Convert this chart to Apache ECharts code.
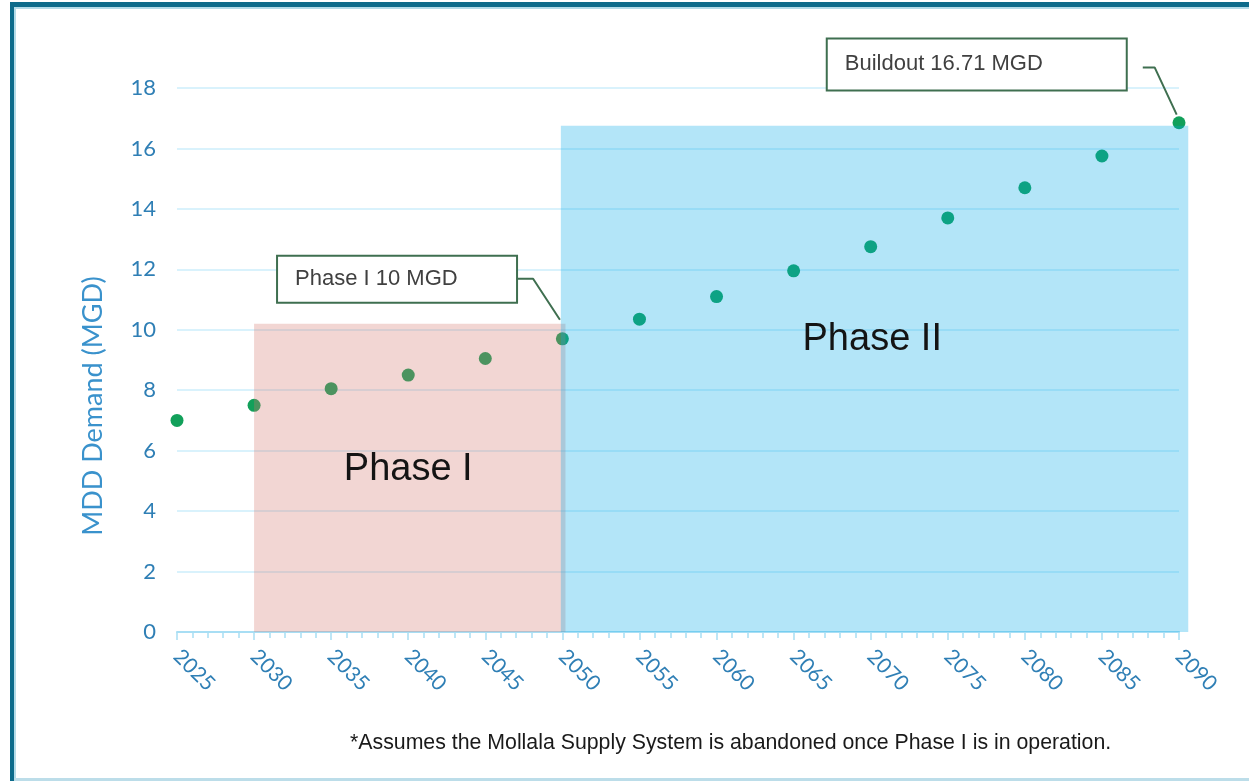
<!DOCTYPE html>
<html>
<head>
<meta charset="utf-8">
<script src="https://cdn.jsdelivr.net/npm/echarts@6/dist/echarts.min.js"></script>
<style>
  html, body { margin: 0; padding: 0; background: #fff; }
  #chart { width: 1249px; height: 781px; }
</style>
</head>
<body>
<div id="chart"></div>
<script>
// data
var years = [2025, 2030, 2035, 2040, 2045, 2050, 2055, 2060, 2065, 2070, 2075, 2080, 2085, 2090];
var demand = [7.0, 7.5, 8.05, 8.5, 9.05, 9.7, 10.35, 11.1, 11.95, 12.75, 13.7, 14.7, 15.75, 16.85];
var phaseOne = [2030, 2050.2, 10.2];   // from, to, top
var phaseTwo = [2049.9, 2090.6, 16.75];
var phaseColors = ['rgba(212,118,108,0.3)', 'rgba(2,168,231,0.3)'];
var phaseOneLeader = [[2047.05, 11.69], [2048.1, 11.69], [2049.84, 10.33]];
var buildoutLeader = [[2087.65, 18.68], [2088.42, 18.68], [2089.85, 17.12]];
var footnote = '*Assumes the Mollala Supply System is abandoned once Phase I is in operation.';

var axisFont = 'Lato, "DejaVu Sans", sans-serif';
var textFont = '"Liberation Sans", Arial, sans-serif';
var green = '#12a05a';
var boxLine = '#3f6f50';

function chart(targetId) {
    var myChart = echarts.init(document.getElementById(targetId));
    myChart.setOption(optionConfig());

    // callout boxes and big phase labels, placed in data space
    function px(pt) { return myChart.convertToPixel({ gridIndex: 0 }, pt); }
    var b1 = px([2031.49, 12.45]);
    var b2 = px([2067.15, 19.64]);
    var p1 = px([2040, 5.36]);
    var p2 = px([2070.1, 9.67]);

    var g = frame();
    g.push(callout(b1, 240, 47, 'Phase I 10 MGD'));
    g.push(callout(b2, 300, 52, 'Buildout 16.71 MGD'));
    g.push(bigLabel(p1, 'Phase I'));
    g.push(bigLabel(p2, 'Phase II'));
    g.push({
        type: 'text', x: 93, y: 406, rotation: Math.PI / 2, z: 100,
        style: { text: 'MDD Demand (MGD)', fontSize: 27, fontFamily: axisFont, fill: '#3a92cc',
                 textAlign: 'center', textVerticalAlign: 'middle' }
    });
    g.push({
        type: 'text', left: 350, top: 733, z: 100,
        style: { text: footnote, fontSize: 21.3, fontFamily: textFont, fill: '#1a1a1a' }
    });
    myChart.setOption({ graphic: g });
}

function frame() {
    return [
        { type: 'rect', shape: { x: 10, y: 2, width: 1239, height: 5 }, style: { fill: '#0d6b8b' }, z: 100 },
        { type: 'rect', shape: { x: 14, y: 7, width: 1235, height: 2 }, style: { fill: '#b4dbe8' }, z: 100 },
        { type: 'rect', shape: { x: 10, y: 2, width: 4, height: 779 }, style: { fill: '#0d6b8b' }, z: 100 },
        { type: 'rect', shape: { x: 14, y: 7, width: 2, height: 774 }, style: { fill: '#b4dbe8' }, z: 100 },
        { type: 'rect', shape: { x: 14, y: 778, width: 1235, height: 3 }, style: { fill: '#bcdde9' }, z: 100 }
    ];
}

function callout(pos, w, h, txt) {
    return {
        type: 'group', x: pos[0], y: pos[1], z: 100,
        children: [
            { type: 'rect', shape: { x: 0, y: 0, width: w, height: h },
              style: { fill: '#fff', stroke: boxLine, lineWidth: 2 } },
            { type: 'text', x: 18, y: h / 2,
              style: { text: txt, fontSize: 22, fontFamily: textFont, fill: '#404040',
                       textVerticalAlign: 'middle' } }
        ]
    };
}

function bigLabel(pos, txt) {
    return {
        type: 'text', x: pos[0], y: pos[1], z: 100,
        style: { text: txt, fontSize: 38, fontFamily: textFont, fill: '#141414',
                 textAlign: 'center', textVerticalAlign: 'middle' }
    };
}

function optionConfig() {
    var pts = years.map(function (y, i) { return [y, demand[i]]; });
    return {
        backgroundColor: '#fff',
        animation: false,
        grid: { left: 177, right: 70, top: 88, bottom: 149 },
        xAxis: {
            type: 'value', min: 2025, max: 2090, interval: 5,
            axisLine: { lineStyle: { color: '#a8def4', width: 2 } },
            axisTick: { show: true, length: 8, lineStyle: { color: '#a8def4', width: 1.5 } },
            minorTick: { show: true, splitNumber: 5, length: 6, lineStyle: { color: '#a8def4', width: 1.5 } },
            splitLine: { show: false },
            axisLabel: {
                rotate: -45, margin: 21, color: '#2f7fb5', fontSize: 21, fontFamily: axisFont,
                formatter: function (v) { return String(v); }
            }
        },
        yAxis: {
            type: 'value', min: 0, max: 18, interval: 2,
            axisLine: { show: false },
            axisTick: { show: false },
            splitLine: { lineStyle: { color: '#cdeefb', width: 1.5 } },
            axisLabel: { margin: 21, color: '#2f7fb5', fontSize: 22, fontFamily: axisFont }
        },
        series: [
            {
                type: 'scatter', data: pts, symbolSize: 13, z: 2,
                itemStyle: { color: green, opacity: 1 }
            },
            {
                type: 'custom', z: 5, clip: false, silent: true,
                data: [phaseOne, phaseTwo],
                encode: { x: [0, 1], y: 2 },
                renderItem: function (params, api) {
                    var p0 = api.coord([api.value(0), 0]);
                    var p1 = api.coord([api.value(1), api.value(2)]);
                    return {
                        type: 'rect',
                        shape: { x: p0[0], y: p1[1], width: p1[0] - p0[0], height: p0[1] - p1[1] },
                        style: { fill: phaseColors[params.dataIndex] }
                    };
                }
            },
            {
                type: 'line', data: phaseOneLeader, symbol: 'none', z: 6, clip: false,
                lineStyle: { color: boxLine, width: 2 }
            },
            {
                type: 'line', data: buildoutLeader, symbol: 'none', z: 6, clip: false,
                lineStyle: { color: boxLine, width: 2 }
            }
        ]
    };
}

chart('chart');
</script>
</body>
</html>
